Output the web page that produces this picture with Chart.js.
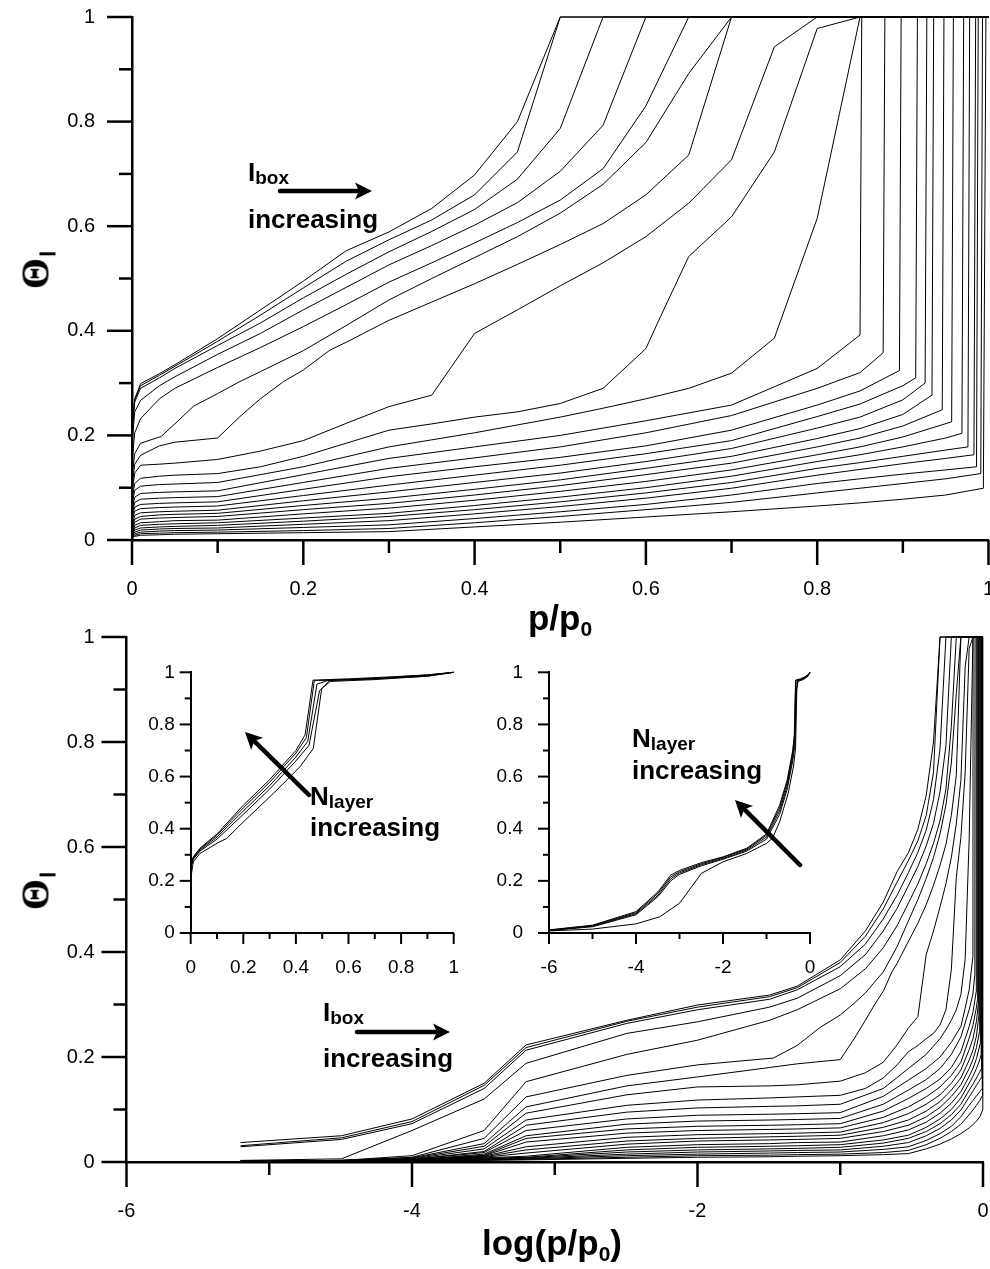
<!DOCTYPE html>
<html lang="en">
<head>
<meta charset="UTF-8">
<title>Adsorption isotherms</title>
<script src="https://cdn.jsdelivr.net/npm/chart.js"></script>
<style>
  body { margin: 0; background: #fff; }
  #page { position: relative; width: 990px; height: 1269px; overflow: hidden; background: #fff; }
  .plot { position: absolute; }
  .plot canvas { display: block; }
  .note, .title { position: absolute; font-family: "Liberation Sans", Arial, sans-serif; font-weight: bold;
                  color: #000; line-height: 1; white-space: nowrap; }
  .note { font-size: 26px; }
  .note .sub { font-size: 19px; position: relative; top: 3px; }
  .title { font-size: 35px; transform: translateX(-50%); }
  .title .sub { font-size: 21px; position: relative; top: 6px; }
  .ylab { position: absolute; transform: translate(-50%, -50%) rotate(-90deg); line-height: 1; white-space: nowrap;
          font: bold 40px "Liberation Serif", "Times New Roman", serif; color: #000; }
  .ylab .sub { font: bold 22px "Liberation Sans", Arial, sans-serif; position: relative; top: 7px; margin-left: 1px; }
  svg { position: absolute; left: 0; top: 0; pointer-events: none; }
</style>
</head>
<body>
<div id="page">
  <div class="plot" style="left:0;top:0"><canvas id="topPlot" width="990" height="600"></canvas></div>
  <div class="plot" style="left:0;top:620px"><canvas id="bottomPlot" width="990" height="620"></canvas></div>
  <div class="plot" style="left:100px;top:650px"><canvas id="insetLinear" width="380" height="340"></canvas></div>
  <div class="plot" style="left:470px;top:650px"><canvas id="insetLog" width="360" height="340"></canvas></div>

  <div class="title" style="left:560px;top:600px">p/p<span class="sub">0</span></div>
  <div class="title" style="left:552px;top:1225px">log(p/p<span class="sub">0</span>)</div>
  <div class="ylab" style="left:35px;top:270px">Θ<span class="sub">l</span></div>
  <div class="ylab" style="left:35px;top:891px">Θ<span class="sub">l</span></div>

  <div class="note" style="left:248px;top:159px">I<span class="sub">box</span></div>
  <div class="note" style="left:248px;top:206px">increasing</div>
  <div class="note" style="left:323px;top:999px">I<span class="sub">box</span></div>
  <div class="note" style="left:323px;top:1045px">increasing</div>
  <div class="note" style="left:310px;top:783px">N<span class="sub">layer</span></div>
  <div class="note" style="left:310px;top:814px">increasing</div>
  <div class="note" style="left:632px;top:725px">N<span class="sub">layer</span></div>
  <div class="note" style="left:632px;top:757px">increasing</div>

  <svg id="arrows" width="990" height="1269"></svg>
</div>

<script>
// coverage curves, [p/p0, theta] pairs, one per box size (largest box first)
const T1 = [[6.3e-6,.037],[3.2e-5,.05],[1e-4,.082],[3.2e-4,.15],[6.3e-4,.223],[3.2e-3,.27],[.01,.299],[.032,.318],[.05,.335],[.1,.385],[.15,.44],[.2,.495],[.25,.553],[.3,.589],[.35,.634],[.4,.698],[.45,.8],[.5,1],[1,1]];
const T2 = [[6.3e-6,.031],[3.2e-5,.046],[1e-4,.077],[3.2e-4,.146],[6.3e-4,.218],[3.2e-3,.268],[.01,.295],[.032,.315],[.05,.332],[.1,.38],[.15,.43],[.2,.482],[.25,.533],[.3,.574],[.35,.612],[.4,.66],[.45,.742],[.5,1],[1,1]];
const T3 = [[6.3e-6,.029],[3.2e-5,.043],[1e-4,.073],[3.2e-4,.14],[6.3e-4,.213],[3.2e-3,.264],[.01,.29],[.032,.31],[.05,.328],[.1,.372],[.15,.415],[.2,.463],[.25,.508],[.3,.551],[.35,.59],[.4,.632],[.45,.69],[.5,.787],[.55,1],[1,1]];
const T4 = [[6.3e-6,.003],[3.2e-5,.006],[1e-4,.06],[3.2e-4,.12],[6.3e-4,.188],[3.2e-3,.245],[.01,.267],[.032,.295],[.05,.312],[.1,.355],[.15,.395],[.2,.44],[.25,.483],[.3,.526],[.35,.563],[.4,.602],[.45,.645],[.5,.705],[.55,.793],[.6,1],[1,1]];
const T5 = [[6.3e-6,.002],[3.2e-5,.003],[1e-4,.012],[3.2e-4,.06],[6.3e-4,.153],[3.2e-3,.205],[.01,.232],[.032,.27],[.05,.29],[.1,.33],[.15,.368],[.2,.408],[.25,.45],[.3,.493],[.35,.53],[.4,.568],[.45,.607],[.5,.65],[.55,.71],[.6,.83],[.65,1],[1,1]];
const K0 = [[6.3e-6,.002],[3.2e-5,.003],[1e-4,.009],[3.2e-4,.045],[6.3e-4,.124],[3.2e-3,.165],[.01,.185],[.034,.198],[.05,.222],[.072,.256],[.1,.28],[.126,.303],[.15,.322],[.2,.362],[.25,.41],[.3,.459],[.35,.5],[.4,.54],[.45,.58],[.5,.625],[.55,.68],[.6,.76],[.65,.892],[.7,1],[1,1]];
const K1 = [[6.3e-6,.002],[3.2e-5,.003],[1e-4,.008],[3.2e-4,.035],[6.3e-4,.105],[3.2e-3,.145],[.01,.162],[.032,.18],[.05,.187],[.1,.195],[.126,.236],[.15,.27],[.177,.303],[.2,.325],[.231,.363],[.25,.378],[.3,.42],[.35,.455],[.4,.49],[.45,.527],[.5,.565],[.55,.605],[.6,.66],[.65,.736],[.7,1],[1,1]];
const K2 = [[6.3e-6,.002],[3.2e-5,.003],[1e-4,.007],[3.2e-4,.03],[6.3e-4,.093],[3.2e-3,.128],[.01,.143],[.032,.145],[.05,.147],[.1,.154],[.15,.17],[.2,.19],[.25,.223],[.3,.255],[.35,.277],[.4,.395],[.45,.44],[.5,.486],[.55,.53],[.6,.58],[.65,.644],[.7,.727],[.75,.943],[.8,1],[1,1]];
const B1 = [[6.3e-6,.002],[3.2e-5,.003],[1e-4,.006],[3.2e-4,.025],[6.3e-4,.08],[3.2e-3,.108],[.01,.118],[.032,.122],[.05,.124],[.1,.127],[.15,.14],[.2,.16],[.25,.185],[.3,.21],[.35,.222],[.4,.235],[.45,.245],[.5,.261],[.55,.29],[.6,.366],[.617,.427],[.65,.542],[.7,.618],[.75,.742],[.8,.978],[.85,1],[1,1]];
const B2 = [[6.3e-6,.001],[3.2e-5,.002],[1e-4,.005],[3.2e-4,.02],[6.3e-4,.07],[3.2e-3,.095],[.01,.103],[.032,.106],[.05,.107],[.1,.11],[.2,.14],[.3,.178],[.4,.205],[.5,.235],[.55,.252],[.6,.27],[.65,.29],[.7,.319],[.75,.386],[.8,.615],[.85,1],[1,1]];
const B3 = [[6.3e-6,.001],[3.2e-5,.002],[1e-4,.005],[3.2e-4,.018],[6.3e-4,.06],[3.2e-3,.082],[.01,.089],[.032,.091],[.05,.092],[.1,.094],[.2,.125],[.3,.156],[.4,.178],[.5,.2],[.6,.228],[.7,.258],[.75,.293],[.8,.328],[.85,.392],[.852,1],[1,1]];
const B4 = [[6.3e-6,.001],[3.2e-5,.002],[1e-4,.004],[3.2e-4,.015],[6.3e-4,.05],[3.2e-3,.072],[.01,.078],[.032,.08],[.05,.081],[.1,.083],[.2,.11],[.3,.137],[.4,.157],[.5,.178],[.6,.205],[.7,.238],[.8,.29],[.85,.32],[.877,.358],[.879,1],[1,1]];
const B5 = [[6.3e-6,.001],[3.2e-5,.002],[1e-4,.004],[3.2e-4,.013],[6.3e-4,.045],[3.2e-3,.063],[.01,.068],[.032,.07],[.05,.071],[.1,.073],[.2,.097],[.3,.121],[.4,.14],[.5,.158],[.6,.18],[.7,.21],[.8,.258],[.85,.285],[.896,.324],[.898,1],[1,1]];
const B6 = [[6.3e-6,.001],[3.2e-5,.002],[1e-4,.004],[3.2e-4,.012],[6.3e-4,.038],[3.2e-3,.055],[.01,.06],[.032,.062],[.05,.063],[.1,.065],[.2,.085],[.3,.105],[.4,.124],[.5,.143],[.6,.165],[.7,.19],[.8,.236],[.85,.26],[.9,.295],[.915,.31],[.917,1],[1,1]];
const B7 = [[6.3e-6,.001],[3.2e-5,.002],[1e-4,.004],[3.2e-4,.011],[6.3e-4,.029],[3.2e-3,.047],[.01,.052],[.032,.054],[.05,.055],[.1,.057],[.2,.075],[.3,.092],[.4,.11],[.5,.128],[.6,.15],[.7,.175],[.8,.214],[.85,.235],[.9,.268],[.926,.3],[.928,1],[1,1]];
const B8 = [[6.3e-6,.001],[3.2e-5,.002],[1e-4,.003],[3.2e-4,.01],[6.3e-4,.023],[3.2e-3,.04],[.01,.045],[.032,.048],[.05,.049],[.1,.051],[.2,.066],[.3,.08],[.4,.097],[.5,.115],[.6,.137],[.7,.16],[.8,.194],[.85,.213],[.9,.24],[.934,.277],[.936,1],[1,1]];
const B9 = [[6.3e-6,.001],[3.2e-5,.002],[1e-4,.003],[3.2e-4,.009],[6.3e-4,.017],[3.2e-3,.034],[.01,.04],[.032,.042],[.05,.043],[.1,.045],[.2,.058],[.3,.07],[.4,.086],[.5,.104],[.6,.125],[.7,.147],[.8,.178],[.85,.195],[.9,.218],[.946,.249],[.948,1],[1,1]];
const B10 = [[6.3e-6,.001],[3.2e-5,.002],[1e-4,.003],[3.2e-4,.008],[6.3e-4,.011],[3.2e-3,.028],[.01,.033],[.032,.035],[.05,.037],[.1,.038],[.2,.05],[.3,.061],[.4,.076],[.5,.093],[.6,.112],[.7,.134],[.8,.163],[.85,.178],[.9,.197],[.957,.226],[.959,1],[1,1]];
const B11 = [[6.3e-6,.001],[3.2e-5,.002],[1e-4,.003],[3.2e-4,.007],[6.3e-4,.009],[3.2e-3,.023],[.01,.028],[.032,.03],[.05,.031],[.1,.033],[.2,.042],[.3,.051],[.4,.066],[.5,.082],[.6,.1],[.7,.122],[.8,.15],[.85,.163],[.9,.178],[.95,.195],[.969,.204],[.971,1],[1,1]];
const B12 = [[6.3e-6,.001],[3.2e-5,.001],[1e-4,.003],[3.2e-4,.006],[6.3e-4,.008],[3.2e-3,.019],[.01,.023],[.032,.025],[.05,.026],[.1,.028],[.2,.036],[.3,.045],[.4,.058],[.5,.073],[.6,.09],[.7,.11],[.8,.137],[.85,.148],[.9,.16],[.95,.172],[.976,.178],[.978,1],[1,1]];
const B13 = [[6.3e-6,.001],[3.2e-5,.001],[1e-4,.002],[3.2e-4,.005],[6.3e-4,.007],[3.2e-3,.015],[.01,.019],[.032,.021],[.05,.022],[.1,.023],[.2,.03],[.3,.037],[.4,.05],[.5,.064],[.6,.08],[.7,.099],[.8,.124],[.85,.135],[.9,.146],[.95,.156],[.983,.163],[.985,1],[1,1]];
const B14 = [[6.3e-6,.001],[3.2e-5,.001],[1e-4,.002],[3.2e-4,.004],[6.3e-4,.006],[3.2e-3,.012],[.01,.015],[.032,.017],[.05,.018],[.1,.019],[.2,.024],[.3,.029],[.4,.041],[.5,.054],[.6,.068],[.7,.086],[.8,.108],[.85,.117],[.9,.126],[.95,.134],[.986,.14],[.988,1],[1,1]];
const B15 = [[6.3e-6,.001],[3.2e-5,.001],[1e-4,.002],[3.2e-4,.004],[6.3e-4,.005],[3.2e-3,.009],[.01,.012],[.032,.013],[.05,.014],[.1,.015],[.2,.018],[.3,.022],[.4,.033],[.5,.045],[.6,.058],[.7,.072],[.8,.09],[.85,.099],[.9,.108],[.95,.117],[.991,.127],[.993,1],[1,1]];
const B16 = [[6.3e-6,.001],[3.2e-5,.001],[1e-4,.002],[3.2e-4,.003],[6.3e-4,.004],[3.2e-3,.007],[.01,.009],[.032,.01],[.05,.011],[.1,.012],[.2,.014],[.3,.016],[.4,.025],[.5,.034],[.6,.044],[.7,.054],[.8,.065],[.85,.071],[.9,.078],[.95,.086],[.994,.099],[.997,1],[1,1]];

const boxCurves = [T1, T2, T3, T4, T5, K0, K1, K2, B1, B2, B3, B4, B5, B6, B7, B8, B9, B10, B11, B12, B13, B14, B15, B16];

// largest box, different layer counts
const N1 = [[1e-6,.012],[1e-5,.03],[1e-4,.082],[3.2e-4,.158],[6.3e-4,.222],[1e-3,.24],[3.2e-3,.27],[.01,.292],[.035,.325],[.1,.38],[.2,.49],[.3,.588],[.4,.7],[.435,.76],[.465,.97],[.6,.975],[.75,.982],[.9,.99],[1,1]];
const N2 = [[1e-6,.011],[1e-5,.028],[1e-4,.078],[3.2e-4,.152],[6.3e-4,.215],[1e-3,.235],[3.2e-3,.266],[.01,.29],[.035,.322],[.1,.375],[.2,.48],[.3,.578],[.4,.69],[.44,.75],[.47,.968],[.6,.972],[.75,.98],[.9,.99],[1,1]];
const N3 = [[1e-6,.01],[1e-5,.026],[1e-4,.074],[3.2e-4,.145],[6.3e-4,.208],[1e-3,.23],[3.2e-3,.262],[.01,.286],[.035,.318],[.1,.368],[.2,.468],[.3,.565],[.4,.675],[.445,.735],[.48,.955],[.52,.968],[.7,.975],[.9,.988],[1,1]];
const N4 = [[1e-6,.009],[1e-5,.024],[1e-4,.07],[3.2e-4,.14],[6.3e-4,.2],[1e-3,.225],[3.2e-3,.258],[.01,.283],[.035,.314],[.1,.36],[.2,.455],[.3,.552],[.4,.66],[.45,.72],[.49,.93],[.53,.965],[.7,.972],[.9,.985],[1,1]];
const N5 = [[1e-6,.008],[1e-5,.015],[1e-4,.035],[3.5e-4,.062],[1e-3,.114],[3.2e-3,.229],[.01,.273],[.035,.305],[.1,.344],[.137,.363],[.2,.426],[.314,.535],[.415,.637],[.466,.708],[.498,.937],[.53,.97],[.7,.975],[.9,.985],[1,1]];

const layerCurves = [N1, N2, N3, N4, N5];

const FONT = "'Liberation Sans', Arial, sans-serif";

// major/minor tick marks drawn outward from each axis
const tickMarks = {
  id: 'tickMarks',
  afterDraw(chart, args, o) {
    const ctx = chart.ctx;
    ctx.save();
    ctx.strokeStyle = '#000';
    ctx.lineWidth = o.width;
    ['x', 'y'].forEach(id => {
      const s = chart.scales[id];
      const n = Math.round((s.max - s.min) / o[id].minor);
      for (let i = 0; i <= n; i++) {
        const len = i % o[id].every === 0 ? o.majorLen : o.minorLen;
        const px = s.getPixelForValue(s.min + i * o[id].minor);
        ctx.beginPath();
        if (s.isHorizontal()) { ctx.moveTo(px, s.top); ctx.lineTo(px, s.top + len); }
        else { ctx.moveTo(s.right, px); ctx.lineTo(s.right - len, px); }
        ctx.stroke();
      }
    });
    ctx.restore();
  }
};

const fmt = v => String(Number(v.toFixed(2)));

// fixed axis box, no extra room reserved for edge labels
const pinAxis = size => s => {
  if (s.isHorizontal()) s.height = size; else s.width = size;
  s.paddingLeft = s.paddingRight = s.paddingTop = s.paddingBottom = 0;
};

function curveSets(curves, toX) {
  return curves.map(c => ({
    data: c.map(([p, t]) => ({ x: toX(p), y: t })),
    borderColor: '#000', borderWidth: 1, pointRadius: 0, tension: 0, fill: false, clip: false
  }));
}

function panel(id, datasets, c) {
  const axisFont = { family: FONT, size: c.fs };
  return new Chart(document.getElementById(id), {
    type: 'line',
    data: { datasets },
    options: {
      responsive: false, animation: false, events: [],
      layout: { autoPadding: false, padding: c.pad },
      plugins: { legend: { display: false }, tooltip: { enabled: false }, tickMarks: c.marks },
      scales: {
        x: {
          type: 'linear', min: c.xRange[0], max: c.xRange[1],
          afterFit: pinAxis(c.xh),
          grid: { display: false, drawTicks: false },
          border: { display: true, color: '#000', width: c.lw },
          ticks: { stepSize: c.xStep, padding: c.xPad, color: '#000', font: axisFont,
                   maxRotation: 0, autoSkip: false, callback: fmt }
        },
        y: {
          type: 'linear', min: 0, max: 1,
          afterFit: pinAxis(c.yw),
          grid: { display: false, drawTicks: false },
          border: { display: true, color: '#000', width: c.lw },
          ticks: { stepSize: 0.2, padding: c.yPad, color: '#000', font: axisFont, callback: fmt }
        }
      }
    },
    plugins: [tickMarks]
  });
}

const linear = p => p;
const log10 = p => Math.log10(p);

const mainMarks = { width: 2.5, majorLen: 25, minorLen: 13 };
const insetMarks = { width: 2, majorLen: 11, minorLen: 6 };

panel('topPlot', curveSets(boxCurves, linear), {
  pad: { top: 17, right: 1.5, left: 0, bottom: 0 }, xh: 60, yw: 132, lw: 2.5, fs: 20,
  xRange: [0, 1], xStep: 0.2, xPad: 37, yPad: 37,
  marks: { ...mainMarks, x: { minor: 0.1, every: 2 }, y: { minor: 0.1, every: 2 } }
});

panel('bottomPlot', curveSets(boxCurves, log10), {
  pad: { top: 17, right: 7, left: 0, bottom: 0 }, xh: 78, yw: 126.5, lw: 2.5, fs: 20,
  xRange: [-6, 0], xStep: 2, xPad: 37, yPad: 32,
  marks: { ...mainMarks, x: { minor: 1, every: 2 }, y: { minor: 0.1, every: 2 } }
});

panel('insetLinear', curveSets(layerCurves, linear), {
  pad: { top: 22.3, right: 26.3, left: 0, bottom: 0 }, xh: 57, yw: 90.7, lw: 2, fs: 19,
  xRange: [0, 1], xStep: 0.2, xPad: 23, yPad: 16,
  marks: { ...insetMarks, x: { minor: 0.1, every: 2 }, y: { minor: 0.1, every: 2 } }
});

panel('insetLog', curveSets(layerCurves, log10), {
  pad: { top: 22.3, right: 20, left: 0, bottom: 0 }, xh: 57, yw: 79, lw: 2, fs: 19,
  xRange: [-6, 0], xStep: 2, xPad: 23, yPad: 26,
  marks: { ...insetMarks, x: { minor: 1, every: 2 }, y: { minor: 0.1, every: 2 } }
});

// "increasing" arrows: tail x, tail y, tip x, tip y
const arrowPaths = [[280, 191, 372, 191], [357, 1032, 450, 1032], [309, 795, 245, 732], [800, 865, 735, 800]];
const svg = document.getElementById('arrows');
const NS = 'http://www.w3.org/2000/svg';
arrowPaths.forEach(([x1, y1, x2, y2]) => {
  const len = Math.hypot(x2 - x1, y2 - y1);
  const ux = (x2 - x1) / len, uy = (y2 - y1) / len;
  const head = 17, half = 8.5;
  const bx = x2 - ux * head, by = y2 - uy * head;
  const shaft = document.createElementNS(NS, 'line');
  shaft.setAttribute('x1', x1); shaft.setAttribute('y1', y1);
  shaft.setAttribute('x2', bx + ux * 3); shaft.setAttribute('y2', by + uy * 3);
  shaft.setAttribute('stroke', '#000'); shaft.setAttribute('stroke-width', 4.5);
  shaft.setAttribute('stroke-linecap', 'round');
  svg.appendChild(shaft);
  const tip = document.createElementNS(NS, 'polygon');
  tip.setAttribute('points', `${x2},${y2} ${bx - uy * half},${by + ux * half} ${bx + ux * 4},${by + uy * 4} ${bx + uy * half},${by - ux * half}`);
  tip.setAttribute('fill', '#000');
  svg.appendChild(tip);
});
</script>
</body>
</html>
